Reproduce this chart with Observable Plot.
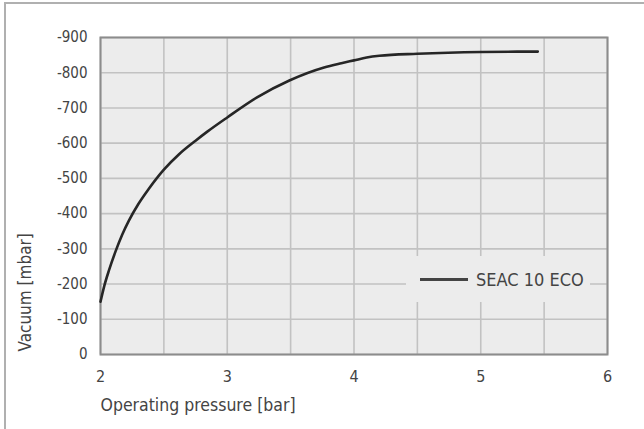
<!DOCTYPE html>
<html>
<head>
<meta charset="utf-8">
<script src="https://cdn.jsdelivr.net/npm/d3@7"></script>
<script src="https://cdn.jsdelivr.net/npm/@observablehq/plot@0.6"></script>
<style>
  html, body { margin: 0; padding: 0; background: #fff; }
  #wrap { position: relative; width: 644px; height: 429px; overflow: hidden; }
  #outer { position: absolute; left: 4px; top: 2px; width: 700px; height: 500px;
           border-top: 2px solid #b0b0b0; border-left: 2px solid #b0b0b0; box-sizing: border-box; }
  #chart { position: absolute; left: 0; top: 0; }
  #legend { position: absolute; left: 406px; top: 256px; width: 184px; height: 46px;
            background: #ececec; display: flex; align-items: center;
            font-family: "Liberation Sans Narrow", "DejaVu Sans Condensed", sans-serif;
            font-size: 18px; color: #444; }
  #legend .swatch { width: 48px; height: 0; border-top: 3px solid #444; margin-left: 14px; margin-right: 8px; }
</style>
</head>
<body>
<div id="wrap">
  <div id="outer"></div>
  <div id="chart"></div>
  <div id="legend"><span class="swatch"></span><span id="legendLabel"></span></div>
</div>
<script>
// Data
const seriesName = "SEAC 10 ECO";
const pressure = [2.0, 2.03, 2.066, 2.118, 2.171, 2.224, 2.30, 2.38, 2.5, 2.618, 2.75, 2.84, 3.0, 3.235, 3.49, 3.764, 3.9, 4.0, 4.1, 4.2, 4.5, 5.0, 5.45];
const vacuum   = [-150, -195, -238, -292, -340, -380, -428, -470, -525, -568, -607, -632, -673, -730, -778, -815, -827, -835, -843, -848, -854, -859, -860];
const xTicks = [2, 3, 4, 5, 6];
const xGrid = [2, 2.5, 3, 3.5, 4, 4.5, 5, 5.5, 6];
const yTicks = [0, -100, -200, -300, -400, -500, -600, -700, -800, -900];
const xLabel = "Operating pressure [bar]";
const yLabel = "Vacuum [mbar]";

const data = pressure.map((p, i) => ({ pressure: p, vacuum: vacuum[i] }));
const font = '"Liberation Sans Narrow", "DejaVu Sans Condensed", sans-serif';

const chart = Plot.plot({
  width: 644,
  height: 429,
  marginLeft: 100,
  marginRight: 37,
  marginTop: 37,
  marginBottom: 75,
  style: { fontFamily: font, fontSize: "15px", color: "#444", background: "transparent" },
  x: { domain: [2, 6] },
  y: { domain: [0, -900] },
  marks: [
    Plot.frame({ fill: "#ececec", stroke: null }),
    Plot.gridX(xGrid, { stroke: "#c2c2c2", strokeOpacity: 1, strokeWidth: 1.6 }),
    Plot.gridY(yTicks, { stroke: "#c2c2c2", strokeOpacity: 1, strokeWidth: 1.6 }),
    Plot.frame({ stroke: "#8c8c8c", strokeWidth: 2 }),
    Plot.line(data, { x: "pressure", y: "vacuum", curve: "monotone-x", stroke: "#262626", strokeWidth: 2.6 }),
    Plot.axisX(xTicks, { tickSize: 0, tickPadding: 16, label: null, fill: "#444", fontSize: 16, tickFormat: d => String(d) }),
    Plot.axisY(yTicks, { tickSize: 0, tickPadding: 13, label: null, fill: "#444", tickFormat: d => String(d) }),
    Plot.text([xLabel], { text: d => d, frameAnchor: "bottom-left", textAnchor: "start", lineAnchor: "middle", dy: 51, fill: "#444", fontSize: 17.5 }),
    Plot.text([yLabel], { text: d => d, frameAnchor: "bottom-left", textAnchor: "start", lineAnchor: "middle", rotate: -90, dx: -75, dy: -3, fill: "#444", fontSize: 17 })
  ]
});
document.getElementById("chart").appendChild(chart);
document.getElementById("legendLabel").textContent = seriesName;
</script>
</body>
</html>
